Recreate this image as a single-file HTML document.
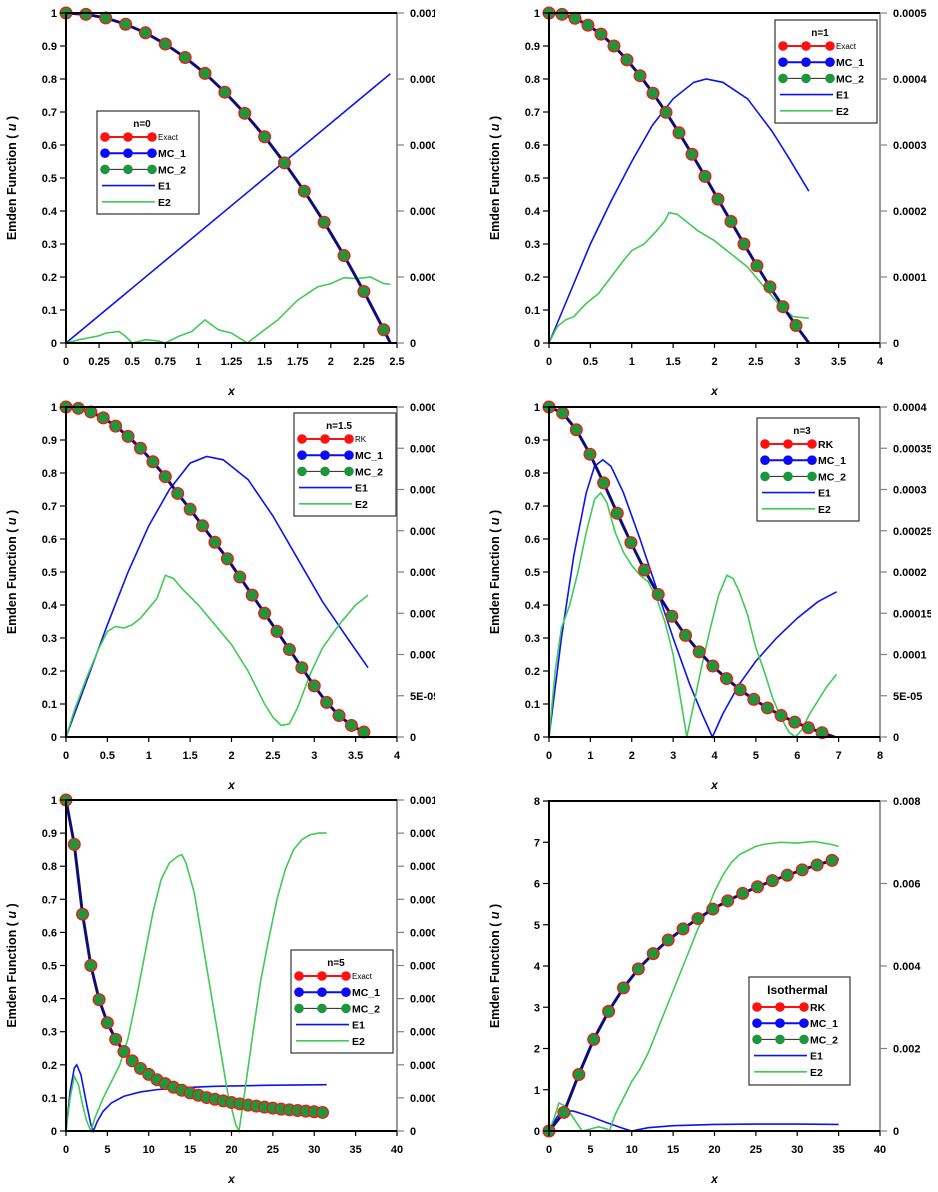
<!DOCTYPE html>
<html><head><meta charset="utf-8"><style>
html,body{margin:0;padding:0;background:#fff;}
svg{display:block;font-family:"Liberation Sans",Arial,sans-serif;}
</style></head><body>
<svg id="chart" width="938" height="1192" viewBox="0 0 938 1192" xmlns="http://www.w3.org/2000/svg">
<defs>
<clipPath id="clipL"><rect x="0" y="0" width="435" height="1192"/></clipPath>
<clipPath id="clipR"><rect x="470" y="0" width="461" height="1192"/></clipPath>
</defs>
<g id="colL" clip-path="url(#clipL)"></g>
<g id="colR" clip-path="url(#clipR)"></g>
</svg>
<script>
// ---------- DATA ----------
const p1X=[0,0.15,0.3,0.45,0.6,0.75,0.9,1.05,1.2,1.35,1.5,1.65,1.8,1.95,2.1,2.25,2.4];
const p1U=[1,0.996,0.985,0.966,0.94,0.906,0.865,0.817,0.76,0.696,0.625,0.546,0.46,0.366,0.265,0.156,0.04];
const p1E1X=[0,2.45];
const p1E1=[0,0.816];
const p1E2X=[0,0.1,0.25,0.3,0.4,0.45,0.5,0.6,0.7,0.75,0.85,0.95,1.05,1.15,1.25,1.37,1.5,1.6,1.75,1.9,2.0,2.1,2.2,2.3,2.4,2.45];
const p1E2=[0,0.01,0.022,0.03,0.035,0.02,0,0.01,0.006,0,0.02,0.035,0.07,0.04,0.03,0,0.04,0.07,0.13,0.17,0.18,0.198,0.195,0.2,0.18,0.178];

const p2X=[0,0.157,0.314,0.471,0.628,0.785,0.942,1.1,1.257,1.414,1.571,1.728,1.885,2.042,2.199,2.356,2.513,2.67,2.827,2.985];
const p2U=[1,0.996,0.984,0.963,0.936,0.9,0.858,0.81,0.757,0.699,0.637,0.572,0.505,0.436,0.368,0.3,0.234,0.17,0.11,0.053];
const p2E1X=[0,0.25,0.5,0.75,1,1.25,1.5,1.75,1.9,2.1,2.4,2.7,2.9,3.14];
const p2E1=[0,0.15,0.3,0.43,0.55,0.66,0.74,0.79,0.8,0.79,0.74,0.64,0.56,0.46];
const p2E2X=[0,0.1,0.2,0.3,0.45,0.6,0.75,0.9,1.0,1.15,1.3,1.4,1.45,1.55,1.65,1.8,2.0,2.2,2.4,2.6,2.8,2.95,3.14];
const p2E2=[0,0.05,0.07,0.08,0.12,0.15,0.2,0.25,0.28,0.3,0.34,0.37,0.395,0.39,0.37,0.34,0.31,0.27,0.23,0.17,0.11,0.08,0.075];

const p3X=[0,0.15,0.3,0.45,0.6,0.75,0.9,1.05,1.2,1.35,1.5,1.65,1.8,1.95,2.1,2.25,2.4,2.55,2.7,2.85,3.0,3.15,3.3,3.45,3.6];
const p3U=[1,0.996,0.985,0.967,0.942,0.911,0.875,0.834,0.789,0.738,0.69,0.64,0.59,0.54,0.485,0.43,0.375,0.32,0.265,0.21,0.155,0.105,0.065,0.035,0.015];
const p3E1X=[0,0.25,0.5,0.75,1,1.25,1.5,1.7,1.9,2.2,2.5,2.8,3.1,3.4,3.65];
const p3E1=[0,0.17,0.34,0.5,0.64,0.75,0.83,0.85,0.84,0.78,0.67,0.54,0.41,0.3,0.21];
const p3E2X=[0,0.1,0.25,0.4,0.5,0.6,0.7,0.8,0.9,1.0,1.1,1.2,1.3,1.4,1.6,1.8,2.0,2.2,2.4,2.5,2.6,2.7,2.8,2.95,3.1,3.3,3.5,3.65];
const p3E2=[0,0.08,0.18,0.27,0.32,0.335,0.33,0.34,0.36,0.39,0.42,0.49,0.48,0.45,0.4,0.34,0.28,0.2,0.1,0.06,0.035,0.04,0.09,0.19,0.27,0.34,0.4,0.43];

const p4X=[0,0.33,0.66,0.99,1.32,1.65,1.98,2.31,2.64,2.97,3.3,3.63,3.96,4.29,4.62,4.95,5.28,5.61,5.94,6.27,6.6];
const p4U=[1,0.982,0.931,0.857,0.77,0.678,0.589,0.506,0.432,0.366,0.308,0.258,0.215,0.177,0.143,0.114,0.088,0.065,0.045,0.028,0.013];
const p4E1X=[0,0.3,0.6,0.9,1.1,1.3,1.5,1.8,2.2,2.6,3.0,3.4,3.7,3.95,4.2,4.6,5.0,5.5,6.0,6.5,6.95];
const p4E1=[0,0.3,0.55,0.74,0.82,0.84,0.82,0.74,0.6,0.45,0.3,0.16,0.07,0,0.07,0.16,0.23,0.3,0.36,0.41,0.44];
const p4E2X=[0,0.15,0.3,0.5,0.7,0.9,1.1,1.25,1.4,1.6,1.8,2.0,2.2,2.4,2.6,2.8,3.0,3.2,3.33,3.5,3.7,3.9,4.1,4.3,4.45,4.6,4.8,5.0,5.2,5.4,5.6,5.8,5.95,6.1,6.3,6.5,6.7,6.95];
const p4E2=[0,0.2,0.33,0.4,0.5,0.62,0.72,0.74,0.71,0.62,0.56,0.52,0.49,0.47,0.42,0.35,0.25,0.1,0,0.1,0.22,0.33,0.43,0.49,0.48,0.44,0.37,0.27,0.2,0.12,0.06,0.015,0,0.02,0.07,0.11,0.15,0.19];

const p5X=[0,1,2,3,4,5,6,7,8,9,10,11,12,13,14,15,16,17,18,19,20,21,22,23,24,25,26,27,28,29,30,31];
const p5U=[1,0.866,0.655,0.5,0.397,0.327,0.277,0.24,0.212,0.189,0.171,0.155,0.143,0.132,0.123,0.115,0.108,0.101,0.096,0.091,0.086,0.082,0.078,0.075,0.072,0.069,0.066,0.064,0.062,0.06,0.058,0.056];
const p5E1X=[0,0.5,1,1.3,1.8,2.5,3,3.3,3.8,4.5,5.5,7,9,11,14,18,24,31.5];
const p5E1=[0,0.12,0.19,0.2,0.17,0.08,0.02,0,0.03,0.06,0.085,0.105,0.118,0.125,0.131,0.135,0.138,0.14];
const p5E2X=[0,0.5,1,1.5,2,2.5,3,3.5,4.5,5.5,6.5,7.5,8.5,9.5,10.5,11.5,12.5,13.5,14,14.5,15.5,16.5,17.5,18.5,19.5,20.5,20.9,21.5,22.5,23.5,24.5,25.5,26.5,27.5,28.5,29.5,30.5,31.5];
const p5E2=[0,0.1,0.165,0.14,0.08,0.03,0,0.04,0.1,0.15,0.2,0.28,0.4,0.53,0.66,0.76,0.81,0.83,0.835,0.81,0.72,0.57,0.42,0.27,0.12,0.02,0,0.1,0.28,0.45,0.58,0.7,0.79,0.85,0.88,0.895,0.9,0.9];

const p6X=[0,1.8,3.6,5.4,7.2,9,10.8,12.6,14.4,16.2,18,19.8,21.6,23.4,25.2,27,28.8,30.6,32.4,34.2];
const p6U=[0,0.45,1.37,2.22,2.9,3.47,3.93,4.3,4.63,4.9,5.15,5.38,5.58,5.76,5.92,6.07,6.2,6.33,6.45,6.56];
const p6E1X=[0,1,2,3,5,7,9,10,12,15,20,25,30,35];
const p6E1=[0,0.044,0.062,0.06,0.044,0.025,0.0075,0,0.01,0.016,0.02,0.021,0.021,0.02];
const p6E2X=[0,0.6,1.2,2,3,4,5,6,7,7.3,8,9,10,11,12,13,14,15,16,17,18,19,20,21,22,23,24,25,26,28,30,32,34,35];
const p6E2=[0,0.0375,0.085,0.075,0.0375,0,0.006,0.0125,0.006,0,0.05,0.1,0.15,0.1875,0.2375,0.3,0.3625,0.425,0.4875,0.55,0.6125,0.6625,0.725,0.775,0.8125,0.8375,0.85,0.8625,0.869,0.875,0.8725,0.8775,0.869,0.8625];

const xTicks1=["0","0.25","0.5","0.75","1","1.25","1.5","1.75","2","2.25","2.5"];
const xTicks2=["0","0.5","1","1.5","2","2.5","3","3.5","4"];
const xTicks4=["0","1","2","3","4","5","6","7","8"];
const xTicks5=["0","5","10","15","20","25","30","35","40"];
const yTicksU=["0","0.1","0.2","0.3","0.4","0.5","0.6","0.7","0.8","0.9","1"];
const yTicks6=["0","1","2","3","4","5","6","7","8"];
const rTicks1=["0","0.0002","0.0004","0.0006","0.0008","0.001"];
const rTicks2=["0","0.0001","0.0002","0.0003","0.0004","0.0005"];
const rTicks3=["0","5E-05","0.0001","0.00015","0.0002","0.00025","0.0003","0.00035","0.0004"];
const rTicks5=["0","0.0001","0.0002","0.0003","0.0004","0.0005","0.0006","0.0007","0.0008","0.0009","0.001"];
const rTicks6=["0","0.002","0.004","0.006","0.008"];

// ---------- RENDER ----------
const NS="http://www.w3.org/2000/svg";
function mk(parent,tag,attrs,text){
  const e=document.createElementNS(NS,tag);
  for(const k in attrs) e.setAttribute(k,attrs[k]);
  if(text!==undefined) e.textContent=text;
  parent.appendChild(e);
  return e;
}
const panels=[
 {col:"colL",L:66,R:397,T:13,B:343,xMax:2.5,yMax:1,xt:xTicks1,yt:yTicksU,rt:rTicks1,mx:p1X,mu:p1U,endX:2.45,endU:0,e1x:p1E1X,e1:p1E1,e2x:p1E2X,e2:p1E2,
  leg:{x:97,y:111,w:102,h:103,title:"n=0",first:"Exact",smallFirst:true,tsize:10}},
 {col:"colR",L:549,R:880,T:13,B:343,xMax:4,yMax:1,xt:xTicks2,yt:yTicksU,rt:rTicks2,mx:p2X,mu:p2U,endX:3.14,endU:0,e1x:p2E1X,e1:p2E1,e2x:p2E2X,e2:p2E2,
  leg:{x:775,y:20,w:102,h:103,title:"n=1",first:"Exact",smallFirst:true,tsize:10}},
 {col:"colL",L:66,R:397,T:407,B:737,xMax:4,yMax:1,xt:xTicks2,yt:yTicksU,rt:rTicks3,mx:p3X,mu:p3U,endX:3.65,endU:0,e1x:p3E1X,e1:p3E1,e2x:p3E2X,e2:p3E2,
  leg:{x:294,y:413,w:102,h:103,title:"n=1.5",first:"RK",smallFirst:true,tsize:10}},
 {col:"colR",L:549,R:880,T:407,B:737,xMax:8,yMax:1,xt:xTicks4,yt:yTicksU,rt:rTicks3,mx:p4X,mu:p4U,endX:6.9,endU:0,e1x:p4E1X,e1:p4E1,e2x:p4E2X,e2:p4E2,
  leg:{x:757,y:418,w:102,h:103,title:"n=3",first:"RK",smallFirst:false,tsize:10}},
 {col:"colL",L:66,R:397,T:800,B:1131,xMax:40,yMax:1,xt:xTicks5,yt:yTicksU,rt:rTicks5,mx:p5X,mu:p5U,endX:31.5,endU:0.055,e1x:p5E1X,e1:p5E1,e2x:p5E2X,e2:p5E2,
  leg:{x:291,y:950,w:102,h:103,title:"n=5",first:"Exact",smallFirst:true,tsize:10}},
 {col:"colR",L:549,R:880,T:801,B:1131,xMax:40,yMax:8,xt:xTicks5,yt:yTicks6,rt:rTicks6,mx:p6X,mu:p6U,endX:35,endU:6.6,e1x:p6E1X,e1:p6E1,e2x:p6E2X,e2:p6E2,
  leg:{x:749,y:977,w:101,h:108,title:"Isothermal",first:"RK",smallFirst:false,tsize:12}}
];

panels.forEach((p,i)=>{
  const root=document.getElementById(p.col);
  const g=mk(root,"g",{});
  
  
  const sx=v=>p.L+(v/p.xMax)*(p.R-p.L);
  const sy=v=>p.B-(v/p.yMax)*(p.B-p.T);
  const sr=v=>p.B-v*(p.B-p.T);
  const e1=mk(g,"polyline",{points:p.e1x.map((x,k)=>sx(x)+","+sr(p.e1[k])).join(" "),fill:"none",stroke:"#0a14f0","stroke-width":1.6});
  
  
  const e2=mk(g,"polyline",{points:p.e2x.map((x,k)=>sx(x)+","+sr(p.e2[k])).join(" "),fill:"none",stroke:"#3fcb55","stroke-width":1.6});
  
  
  const pts=p.mx.map((x,k)=>sx(x)+","+sy(p.mu[k]));
  pts.push(sx(p.endX)+","+sy(p.endU));
  const ml=mk(g,"polyline",{points:pts.join(" "),fill:"none",stroke:"#1010c0","stroke-width":3});
  
  
  const ml2=mk(g,"polyline",{points:pts.join(" "),fill:"none",stroke:"#101050","stroke-width":1.8});
  
  
  p.mx.forEach((x,k)=>{
    const c=mk(g,"circle",{cx:sx(x),cy:sy(p.mu[k]),r:6.5,fill:"#ff1010"});
    
    
    const c2=mk(g,"circle",{cx:sx(x),cy:sy(p.mu[k]),r:5.3,fill:"#1f963c"});
    
    
  });
  const ax=mk(g,"g",{});
  
  
  mk(ax,"line",{x1:p.R,y1:p.T,x2:p.R,y2:p.B+1,stroke:"#808080","stroke-width":1.6});
  mk(ax,"line",{x1:p.L,y1:p.T,x2:p.R,y2:p.T,stroke:"#000","stroke-width":2});
  mk(ax,"line",{x1:p.L,y1:p.B,x2:p.R,y2:p.B,stroke:"#000","stroke-width":2});
  mk(ax,"line",{x1:p.L,y1:p.T-1,x2:p.L,y2:p.B+1,stroke:"#000","stroke-width":2});
  p.xt.forEach((t,k)=>{
    const x=p.L+k*(p.R-p.L)/(p.xt.length-1);
    mk(ax,"line",{x1:x,y1:p.B,x2:x,y2:p.B+5,stroke:"#000","stroke-width":1.2});
    const tl=mk(ax,"text",{x:x,y:p.B+22,"text-anchor":"middle","font-size":11,"font-weight":"bold"},t);
    
    
  });
  p.yt.forEach((t,k)=>{
    const y=p.B-k*(p.B-p.T)/(p.yt.length-1);
    mk(ax,"line",{x1:p.L-6,y1:y,x2:p.L,y2:y,stroke:"#000","stroke-width":1.2});
    const tl=mk(ax,"text",{x:p.L-9,y:y+4,"text-anchor":"end","font-size":11,"font-weight":"bold"},t);
    
    
  });
  p.rt.forEach((t,k)=>{
    const y=p.B-k*(p.B-p.T)/(p.rt.length-1);
    mk(ax,"line",{x1:p.R,y1:y,x2:p.R+7,y2:y,stroke:"#808080","stroke-width":1.2});
    const tl=mk(ax,"text",{x:p.R+13,y:y+4,"font-size":11,"font-weight":"bold"},t);
    
    
  });
  const xt=mk(ax,"text",{x:(p.L+p.R)/2,y:p.B+52,"text-anchor":"middle","font-size":12,"font-weight":"bold","font-style":"italic"},"x");
  
  
  const cy=(p.T+p.B)/2, tx=p.L-50;
  const yt=mk(ax,"text",{x:tx,y:cy,"text-anchor":"middle","font-size":12.5,"font-weight":"bold",transform:"rotate(-90 "+tx+" "+cy+")"});
  
  
  mk(yt,"tspan",{},"Emden Function ( ");
  mk(yt,"tspan",{"font-style":"italic"},"u");
  mk(yt,"tspan",{}," )");
  const L=p.leg;
  const lg=mk(g,"g",{});
  
  
  mk(lg,"rect",{x:L.x,y:L.y,width:L.w,height:L.h,fill:"#fff",stroke:"#333","stroke-width":1.2});
  const tt=mk(lg,"text",{x:L.x+L.w/2-(L.tsize>10?2:6),y:L.y+(L.tsize>10?17:16),"text-anchor":"middle","font-size":L.tsize,"font-weight":"bold"},L.title);
  
  
  const off=L.tsize>10?4:0;
  const rows=[{lab:L.first,col:"#ff1010",lc:"#ff1010",dots:true,small:L.smallFirst},
              {lab:"MC_1",col:"#0a0af5",lc:"#0a0af5",dots:true},
              {lab:"MC_2",col:"#1f963c",lc:"#222",dots:true},
              {lab:"E1",lc:"#0a14f0",dots:false},
              {lab:"E2",lc:"#3fcb55",dots:false}];
  rows.forEach((r,k)=>{
    const y=L.y+26+off+k*16.2;
    const re=mk(lg,"g",{});
    
    
    if(r.dots){
      mk(re,"line",{x1:L.x+8,y1:y,x2:L.x+55,y2:y,stroke:r.lc,"stroke-width":r.lab==="MC_2"?1:2});
      [8,31,55].forEach(d=>mk(re,"circle",{cx:L.x+d,cy:y,r:4.8,fill:r.col}));
    } else {
      mk(re,"line",{x1:L.x+5,y1:y,x2:L.x+58,y2:y,stroke:r.lc,"stroke-width":1.6});
    }
    mk(re,"text",{x:L.x+61,y:y+(r.small?3:4),"font-size":r.small?8:10.5,"font-weight":r.small?"normal":"bold"},r.lab);
  });
});
</script>
</body></html>
